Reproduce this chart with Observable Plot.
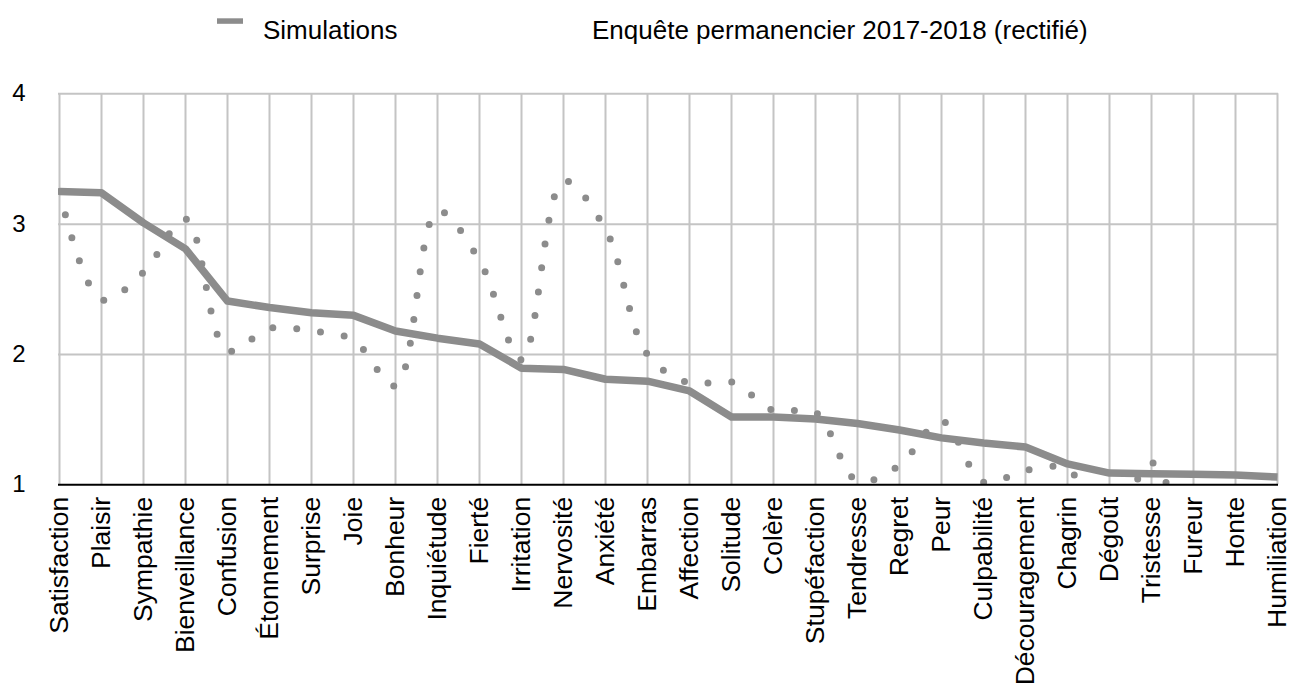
<!DOCTYPE html>
<html>
<head>
<meta charset="utf-8">
<script src="https://cdn.jsdelivr.net/npm/d3@7"></script>
<script src="https://cdn.jsdelivr.net/npm/@observablehq/plot@0.6"></script>
<style>
  html, body { margin: 0; padding: 0; background: #fff; }
  body { width: 1294px; font-family: "Liberation Sans", Arial, Helvetica, sans-serif; }
  #legend { display: block; }
  #chart svg { display: block; }
</style>
</head>
<body>
<svg id="legend" width="1294" height="60"></svg>
<div id="chart"></div>
<script>
// ---- Data ----
const categories = ["Satisfaction","Plaisir","Sympathie","Bienveillance","Confusion","Étonnement","Surprise","Joie","Bonheur","Inquiétude","Fierté","Irritation","Nervosité","Anxiété","Embarras","Affection","Solitude","Colère","Stupéfaction","Tendresse","Regret","Peur","Culpabilité","Découragement","Chagrin","Dégoût","Tristesse","Fureur","Honte","Humiliation"];

const simulations = [3.25, 3.24, 3.01, 2.81, 2.41, 2.36, 2.32, 2.30, 2.18, 2.125, 2.08, 1.895, 1.885, 1.81, 1.795, 1.72, 1.52, 1.52, 1.505, 1.47, 1.42, 1.36, 1.32, 1.29, 1.16, 1.09, 1.085, 1.08, 1.075, 1.06];

const enquete = [3.25, 2.42, 2.63, 3.04, 2.03, 2.20, 2.18, 2.11, 1.76, 3.10, 2.72, 1.96, 3.33, 2.96, 2.00, 1.78, 1.79, 1.57, 1.555, 1.03, 1.15, 1.49, 1.02, 1.11, 1.12, 0.68, 1.17, 0.6, 0.6, 0.6];

const yTicks = [1, 2, 3, 4];
const seriesNames = ["Simulations", "Enquête permanencier 2017-2018 (rectifié)"];

// ---- Build table ----
const data = categories.map((c, i) => ({cat: c, sim: simulations[i], enq: enquete[i]}));

const gray = "#8c8c8c";
const gridColor = "#c4c4c4";
const fontFamily = "'Liberation Sans', Arial, Helvetica, sans-serif";

// ---- Legend (above the chart) ----
const legend = d3.select("#legend");
legend.append("rect").attr("x", 217).attr("y", 18.3).attr("width", 26).attr("height", 5.5).attr("fill", gray);
legend.append("text").attr("x", 263).attr("y", 38.7).attr("font-size", 26).attr("font-family", fontFamily).attr("fill", "#000").text(seriesNames[0]);
legend.append("text").attr("x", 592).attr("y", 38.7).attr("font-size", 26).attr("font-family", fontFamily).attr("fill", "#000").text(seriesNames[1]);

// ---- Chart ----
const chart = Plot.plot({
  width: 1294,
  height: 626,
  marginTop: 33.3,
  marginBottom: 201.7,
  marginLeft: 58,
  marginRight: 16,
  style: {fontFamily, background: "white", overflow: "visible", color: "#000"},
  x: {type: "point", domain: categories, padding: 0, label: null},
  y: {domain: [1, 4], label: null},
  marks: [
    Plot.ruleY([2, 3, 4], {stroke: gridColor, strokeWidth: 2}),
    Plot.ruleX(categories, {x: d => d, stroke: gridColor, strokeWidth: 2}),
    Plot.line(data, {x: "cat", y: "enq", curve: "catmull-rom", stroke: gray, strokeWidth: 7,
      strokeDasharray: "0 24", strokeLinecap: "round", clip: true}),
    Plot.line(data, {x: "cat", y: "sim", stroke: gray, strokeWidth: 7.5, strokeLinejoin: "round", strokeLinecap: "butt"}),
    Plot.ruleY([1], {stroke: "#000", strokeWidth: 2}),
    Plot.axisX({tickRotate: -90, tickSize: 0, tickPadding: 12, fontSize: 26.5, fill: "#000"}),
    Plot.axisY({ticks: yTicks, tickFormat: "d", tickSize: 0, tickPadding: 33, fontSize: 24, fill: "#000"})
  ]
});
document.getElementById("chart").appendChild(chart);
</script>
</body>
</html>
